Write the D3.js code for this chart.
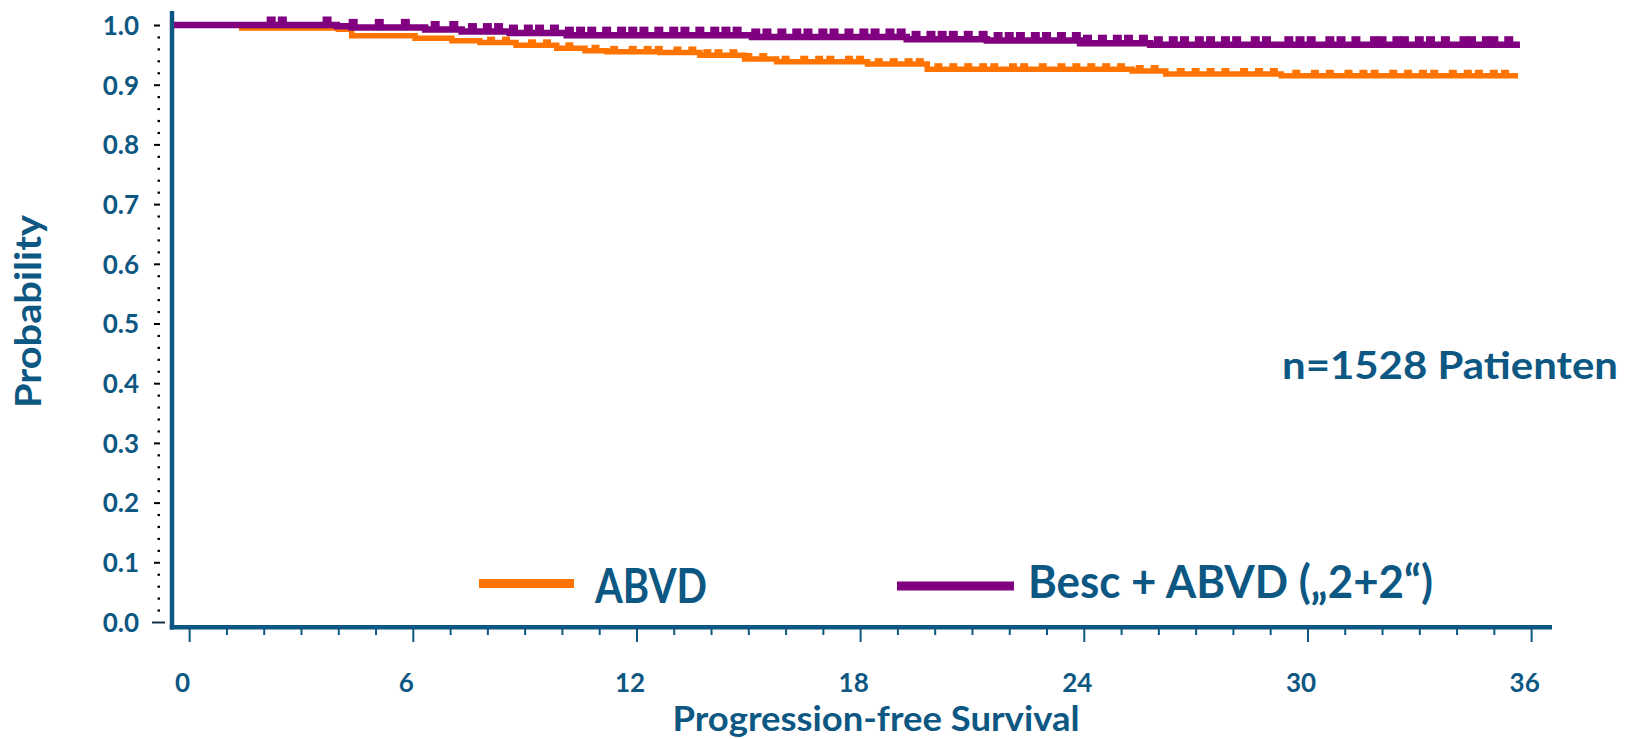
<!DOCTYPE html>
<html>
<head>
<meta charset="utf-8">
<script src="https://cdn.jsdelivr.net/npm/d3@7/dist/d3.min.js"></script>
<style>
  body { margin: 0; background: #fff; }
  svg text { font-family: Lato, "Open Sans", sans-serif; font-weight: bold; fill: #0d5783; }
</style>
</head>
<body>
<svg id="chart" width="1631" height="739"></svg>
<script>
// Kaplan-Meier steps (months, probability)
var abvdTimes = [0, 1.41, 4.0, 4.36, 6.06, 7.05, 7.8, 8.77, 9.86, 10.62, 11.2, 12.63, 13.7, 14.9, 15.76, 18.2, 19.8, 25.3, 26.2, 29.3];
var abvdSurv  = [1, 0.995, 0.993, 0.982, 0.978, 0.9735, 0.9705, 0.966, 0.961, 0.957, 0.955, 0.954, 0.9495, 0.943, 0.9385, 0.9345, 0.926, 0.923, 0.918, 0.915];
var abvdLast = 35.65;

var bescTimes = [0, 3.96, 4.36, 6.33, 7.31, 8.6, 10.13, 15.1, 19.25, 21.4, 23.9, 25.78];
var bescSurv  = [1, 0.998, 0.996, 0.9925, 0.989, 0.9865, 0.983, 0.98, 0.976, 0.974, 0.9695, 0.967];
var bescLast = 35.7;

// censored patients (months)
var abvdCensor = [8.1, 8.5, 9.2, 9.6, 10.2, 10.9, 11.4, 11.9, 12.3, 12.6, 13.1, 13.5, 13.9, 14.2, 14.6, 15.0, 15.4, 16.0, 16.5, 16.9, 17.2, 17.7, 18.0, 18.5, 18.9, 19.3, 19.6, 20.1, 20.5, 20.9, 21.3, 21.6, 22.1, 22.4, 22.9, 23.4, 23.8, 24.2, 24.6, 25.0, 25.5, 25.9, 26.6, 27.0, 27.4, 27.8, 28.3, 28.7, 29.1, 29.7, 30.2, 30.6, 31.1, 31.5, 31.8, 32.3, 32.7, 33.1, 33.4, 33.9, 34.3, 34.6, 35.0, 35.3];
var bescCensor = [2.2, 2.5, 3.7, 4.4, 5.1, 5.8, 6.6, 7.1, 7.6, 8.0, 8.3, 8.7, 9.1, 9.4, 9.8, 10.2, 10.5, 10.8, 11.2, 11.6, 11.9, 12.2, 12.6, 13.0, 13.3, 13.7, 14.1, 14.4, 14.7, 15.2, 15.5, 15.9, 16.3, 16.6, 17.0, 17.3, 17.7, 18.1, 18.4, 18.8, 19.1, 19.5, 19.9, 20.2, 20.5, 20.9, 21.3, 21.7, 22.0, 22.3, 22.7, 23.0, 23.4, 23.8, 24.1, 24.5, 24.9, 25.2, 25.6, 26.0, 26.4, 26.7, 27.1, 27.4, 27.8, 28.1, 28.6, 28.9, 29.5, 29.8, 30.1, 30.6, 30.9, 31.3, 31.8, 32.0, 32.4, 32.6, 33.0, 33.3, 33.7, 34.2, 34.4, 34.8, 35.0, 35.4];

var xTicks = [0, 6, 12, 18, 24, 30, 36];
var xMinor = [1, 2, 3, 4, 5, 7, 8, 9, 10, 11, 13, 14, 15, 16, 17, 19, 20, 21, 22, 23, 25, 26, 27, 28, 29, 31, 32, 33, 34, 35];
var yTicks = [0, 0.1, 0.2, 0.3, 0.4, 0.5, 0.6, 0.7, 0.8, 0.9, 1.0];
var yMinor = [0.02, 0.04, 0.06, 0.08, 0.12, 0.14, 0.16, 0.18, 0.22, 0.24, 0.26, 0.28, 0.32, 0.34, 0.36, 0.38, 0.42, 0.44, 0.46, 0.48,
              0.52, 0.54, 0.56, 0.58, 0.62, 0.64, 0.66, 0.68, 0.72, 0.74, 0.76, 0.78, 0.82, 0.84, 0.86, 0.88, 0.92, 0.94, 0.96, 0.98];

var seriesNames = ["ABVD", "Besc + ABVD (\u201E2+2\u201C)"];
var colors = ["#ff7400", "#800080"];
var blue = "#0d5783";

var x = d3.scaleLinear().domain([-0.46, 36.56]).range([172, 1552]);
var y = d3.scaleLinear().domain([0, 1]).range([622, 25]);

var svg = d3.select("#chart");

// y axis: black dotted ticks standing off the blue axis line
var yAxisG = svg.append("g")
    .attr("transform", "translate(160,0)")
    .call(d3.axisLeft(y).tickValues(yTicks).tickSize(6).tickPadding(15).tickFormat(d3.format(".1f")));
yAxisG.select(".domain").remove();
yAxisG.selectAll(".tick line").attr("stroke", "#000").attr("stroke-width", 2);
yAxisG.selectAll(".tick").filter(function(d) { return d === 0; }).select("line")
    .attr("x1", 5).attr("x2", -8).attr("stroke", "#16324a");
yAxisG.selectAll(".tick text").style("font-size", "26px").attr("dy", "0.36em");

var yMinorG = svg.append("g")
    .attr("transform", "translate(160,0)")
    .call(d3.axisLeft(y).tickValues(yMinor).tickSize(2.5).tickFormat(""));
yMinorG.select(".domain").remove();
yMinorG.selectAll(".tick line").attr("stroke", "#000").attr("stroke-width", 2.2);

// x axis ticks
var xAxisG = svg.append("g")
    .attr("transform", "translate(0,629)")
    .call(d3.axisBottom(x).tickValues(xTicks).tickSize(13).tickPadding(32).tickFormat(d3.format("d")));
xAxisG.select(".domain").remove();
xAxisG.selectAll(".tick line").attr("stroke", blue).attr("stroke-width", 2);
xAxisG.selectAll(".tick text").style("font-size", "26px").attr("dx", -7);

var xMinorG = svg.append("g")
    .attr("transform", "translate(0,629)")
    .call(d3.axisBottom(x).tickValues(xMinor).tickSize(6).tickFormat(""));
xMinorG.select(".domain").remove();
xMinorG.selectAll(".tick line").attr("stroke", blue).attr("stroke-width", 2);

// axis lines
svg.append("line")
    .attr("x1", x.range()[0]).attr("x2", x.range()[0])
    .attr("y1", 11).attr("y2", 629.5)
    .attr("stroke", blue).attr("stroke-width", 4.5);
svg.append("line")
    .attr("x1", x.range()[0] - 2.25).attr("x2", x.range()[1])
    .attr("y1", 627.3).attr("y2", 627.3)
    .attr("stroke", blue).attr("stroke-width", 4.5);

// curves
function stepsOf(times, surv, last) {
  var pts = times.map(function(t, i) { return { t: t, s: surv[i] }; });
  pts.push({ t: last, s: surv[surv.length - 1] });
  return pts;
}
function survAt(times, surv, t) {
  return surv[d3.bisectRight(times, t) - 1];
}

var km = d3.line()
    .x(function(d, i) { return i === 0 ? x.range()[0] + 2 : x(d.t); })
    .y(function(d) { return y(d.s); })
    .curve(d3.curveStepAfter);

var groups = [
  { times: abvdTimes, surv: abvdSurv, last: abvdLast, censor: abvdCensor, color: colors[0], w: 5.5, tick: 6, tw: 8 },
  { times: bescTimes, surv: bescSurv, last: bescLast, censor: bescCensor, color: colors[1], w: 6.5, tick: 8.5, tw: 9 }
];

groups.forEach(function(g) {
  svg.append("path")
    .datum(stepsOf(g.times, g.surv, g.last))
    .attr("d", km)
    .attr("fill", "none")
    .attr("stroke", g.color)
    .attr("stroke-width", g.w);

  svg.append("g").selectAll("line")
    .data(g.censor)
    .enter().append("line")
    .attr("x1", function(d) { return x(d); })
    .attr("x2", function(d) { return x(d); })
    .attr("y1", function(d) { return y(survAt(g.times, g.surv, d)); })
    .attr("y2", function(d) { return y(survAt(g.times, g.surv, d)) - g.tick; })
    .attr("stroke", g.color)
    .attr("stroke-width", g.tw);
});

// legend
svg.append("line").attr("x1", 479).attr("x2", 574).attr("y1", 583.5).attr("y2", 583.5)
    .attr("stroke", colors[0]).attr("stroke-width", 9);
svg.append("text").attr("x", 595).attr("y", 603)
    .attr("textLength", 112).attr("lengthAdjust", "spacingAndGlyphs")
    .style("font-size", "48px").text(seriesNames[0]);

svg.append("line").attr("x1", 897).attr("x2", 1014).attr("y1", 586).attr("y2", 586)
    .attr("stroke", colors[1]).attr("stroke-width", 9);
svg.append("text").attr("x", 1028).attr("y", 598)
    .attr("textLength", 405).attr("lengthAdjust", "spacingAndGlyphs")
    .style("font-size", "46px").text(seriesNames[1]);

// annotation and titles
svg.append("text").attr("x", 1282).attr("y", 379)
    .attr("textLength", 336).attr("lengthAdjust", "spacingAndGlyphs")
    .style("font-size", "38px").text("n=1528 Patienten");

svg.append("text").attr("x", 876).attr("y", 731)
    .attr("text-anchor", "middle")
    .attr("textLength", 407).attr("lengthAdjust", "spacingAndGlyphs")
    .style("font-size", "34px").text("Progression-free Survival");

svg.append("text")
    .attr("transform", "translate(41,311.5) rotate(-90)")
    .attr("text-anchor", "middle")
    .attr("textLength", 193).attr("lengthAdjust", "spacingAndGlyphs")
    .style("font-size", "37px").text("Probability");
</script>
</body>
</html>
